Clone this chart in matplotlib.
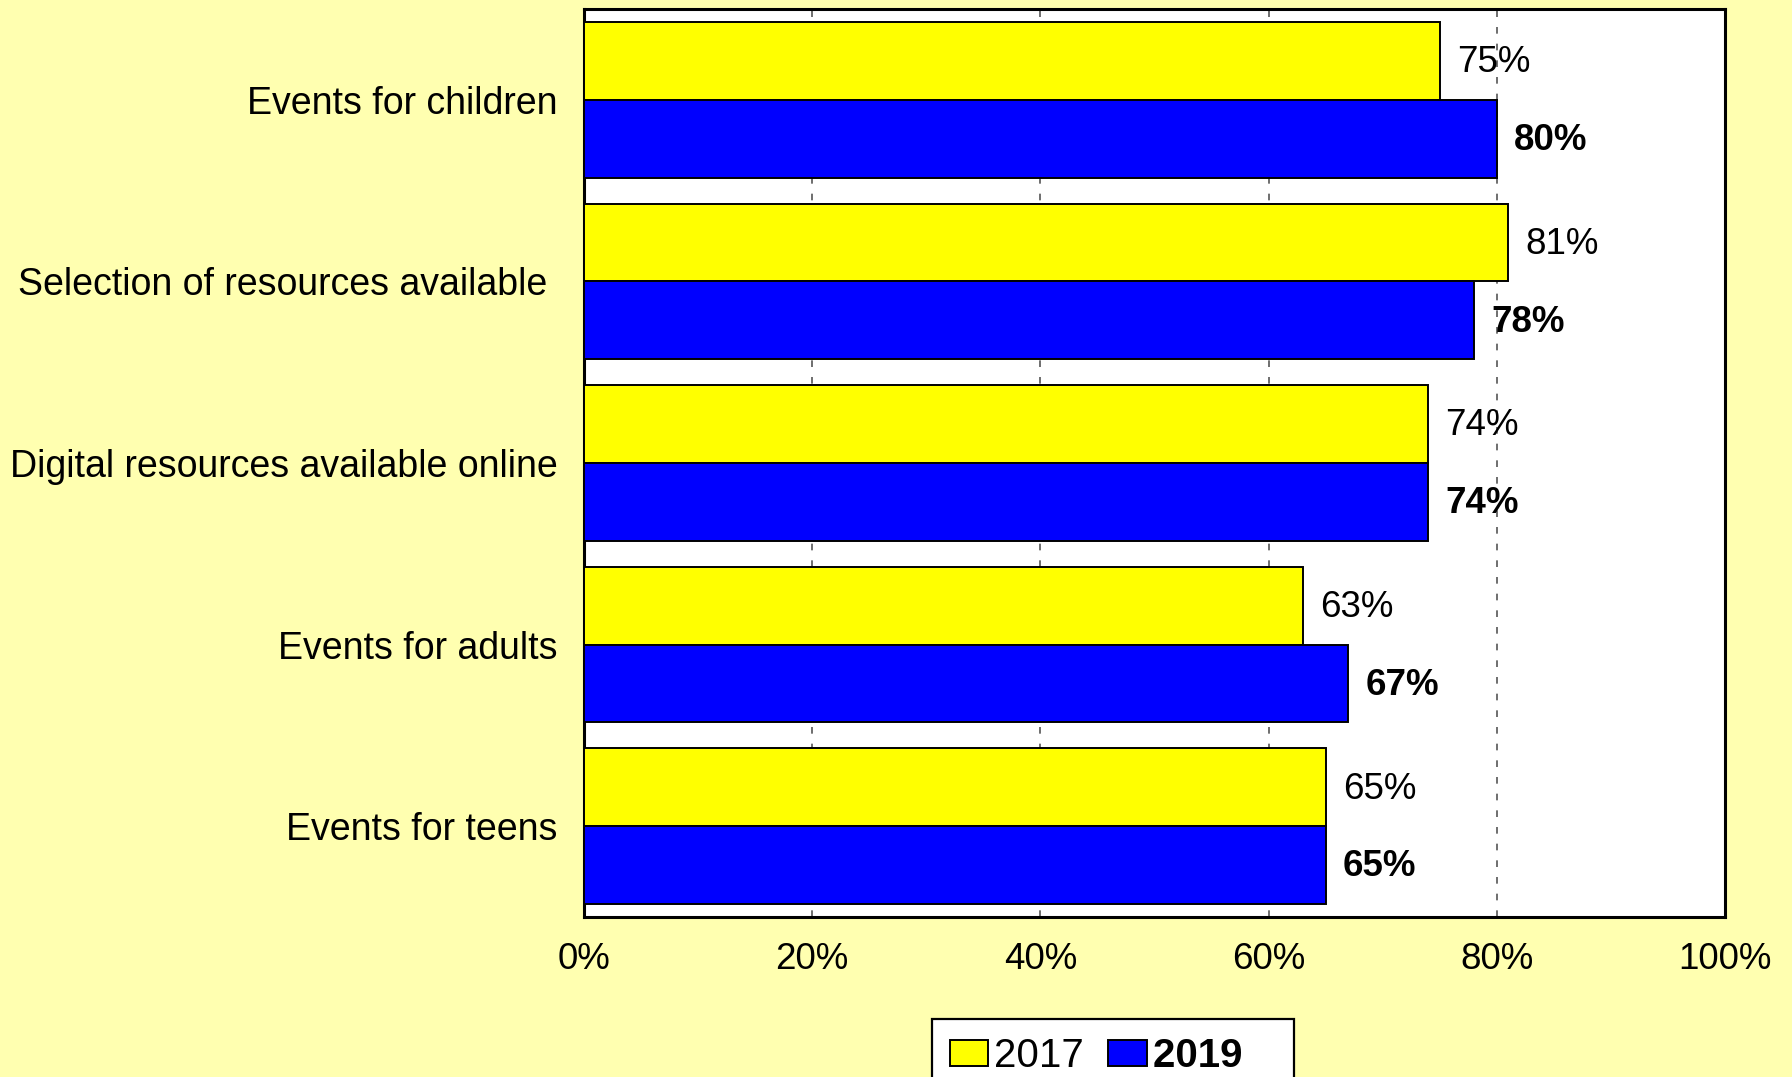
import matplotlib.pyplot as plt
import numpy as np

plt.rcParams['font.family'] = ['Liberation Sans', 'DejaVu Sans']

# Datos
categorias = ['Events for children', 'Selection of resources available ',
              'Digital resources available online', 'Events for adults',
              'Events for teens']
valores_2017 = [75, 81, 74, 63, 65]
valores_2019 = [80, 78, 74, 67, 65]
ticks_x = [0, 20, 40, 60, 80, 100]

fondo = '#FFFFB0'
fig = plt.figure(figsize=(17.92, 10.77), dpi=100, facecolor=fondo)
ax = fig.add_axes([584 / 1792, 1 - 917 / 1077, 1141 / 1792, 908 / 1077])
ax.set_facecolor('white')

y = np.arange(len(categorias))
h = 0.428
b1 = ax.barh(y - h / 2, valores_2017, height=h, color='#FFFF00',
             edgecolor='black', linewidth=1.4, label='2017', zorder=3)
b2 = ax.barh(y + h / 2, valores_2019, height=h, color='#0000FF',
             edgecolor='black', linewidth=1.4, label='2019', zorder=3)

# Etiquetas de valores
for yi, v in zip(y, valores_2017):
    ax.text(v + 1.5, yi - h / 2 + 0.01, f'{v}%', va='center', ha='left', fontsize=26.5)
for yi, v in zip(y, valores_2019):
    ax.text(v + 1.5, yi + h / 2 + 0.01, f'{v}%', va='center', ha='left',
            fontsize=26.5, fontweight='bold')

ax.set_xlim(0, 100)
ax.set_ylim(len(categorias) - 0.5, -0.5)
ax.set_xticks(ticks_x)
ax.set_xticklabels([f'{t}%' for t in ticks_x], fontsize=26.5)
ax.set_yticks(y)
ax.set_yticklabels(categorias, fontsize=27)
ax.tick_params(axis='both', length=0)
ax.tick_params(axis='y', pad=19)
ax.tick_params(axis='x', pad=18)
ax.grid(True, axis='x', linestyle=(0, (4, 6)), color='#555555', linewidth=1.2, zorder=0)
ax.set_axisbelow(True)
for s in ax.spines.values():
    s.set_linewidth(2.2)
    s.set_color('black')

leg = fig.legend(handles=[b1, b2], labels=['2017', '2019   '], ncol=2,
                 loc='upper left', bbox_to_anchor=(932 / 1792, 1 - 1019 / 1077),
                 fontsize=29, frameon=True, fancybox=False, edgecolor='black',
                 facecolor='white', framealpha=1, handlelength=0.95,
                 handleheight=0.62, handletextpad=0.15, columnspacing=0.6,
                 borderpad=0.45, borderaxespad=0)
leg.get_frame().set_linewidth(1.6)
leg.get_texts()[1].set_fontweight('bold')

fig.savefig('out.png', dpi=100, facecolor=fondo)
